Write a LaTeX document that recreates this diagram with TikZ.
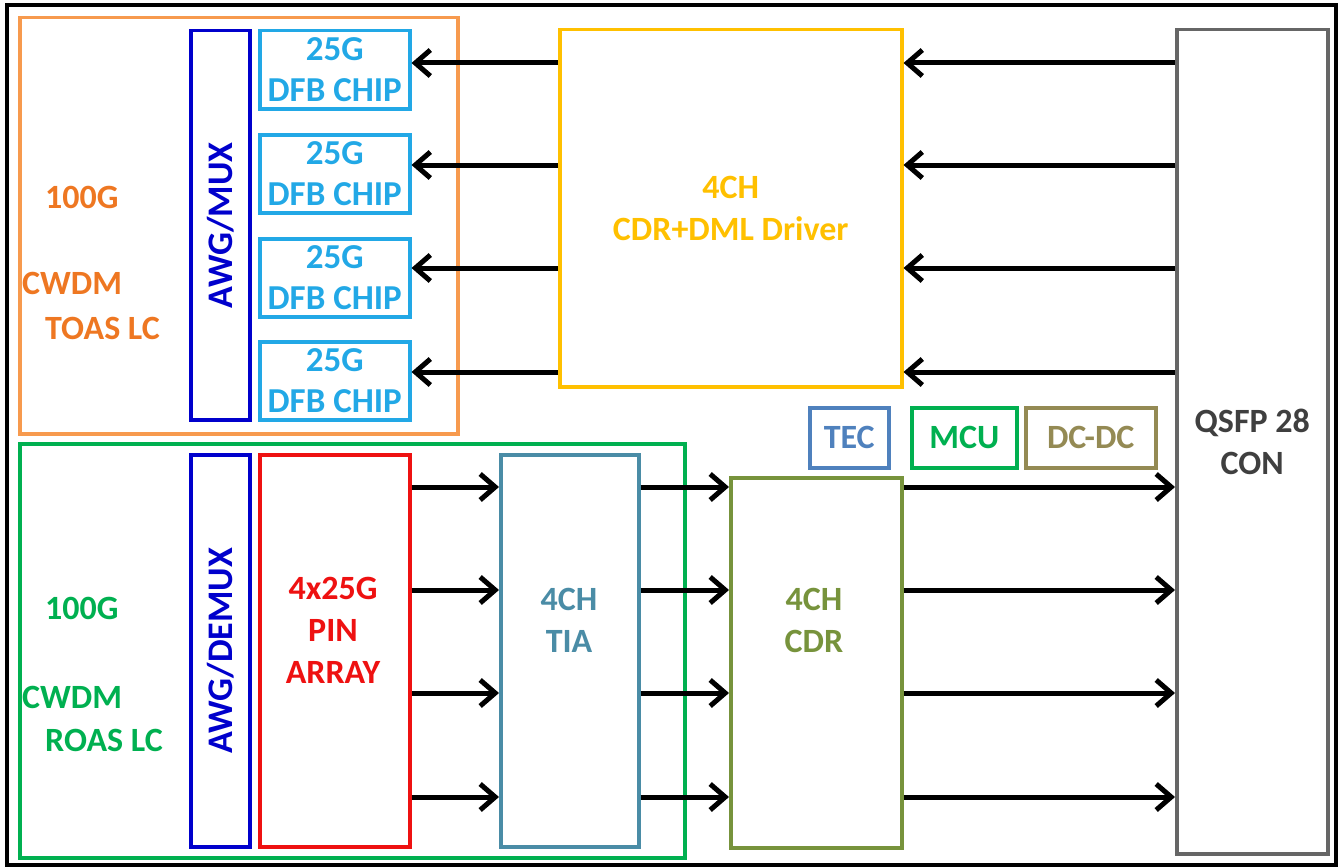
\documentclass[tikz,border=0pt]{standalone}
\usepackage{fontspec}
\setmainfont{Carlito}
\usetikzlibrary{arrows.meta}
\definecolor{cOrB}{HTML}{F79A4E}
\definecolor{cOrT}{HTML}{EE7722}
\definecolor{cAwg}{HTML}{0000CC}
\definecolor{cDfb}{HTML}{22A8E6}
\definecolor{cDrv}{HTML}{FFC000}
\definecolor{cGrn}{HTML}{00B050}
\definecolor{cRed}{HTML}{EE1111}
\definecolor{cTia}{HTML}{4A8CA6}
\definecolor{cCdr}{HTML}{77933C}
\definecolor{cTec}{HTML}{4F81BD}
\definecolor{cDcdc}{HTML}{948A54}
\definecolor{cQsB}{HTML}{666666}
\definecolor{cQsT}{HTML}{3F3F3F}
\begin{document}
\begin{tikzpicture}[x=1pt,y=-1pt,
  box/.style={draw=#1, line width=3.5pt, rectangle, inner sep=0pt, anchor=north west,
    text=#1, align=center, font=\bfseries\fontsize{34}{42}\selectfont},
  txt/.style={text=#1, inner sep=0pt, align=center, font=\bfseries\fontsize{34}{42}\selectfont},
  lbl/.style={text=#1, inner sep=0pt, anchor=west, font=\bfseries\fontsize{34}{42}\selectfont},
  vtxt/.style={text=#1, inner sep=0pt, rotate=90, font=\bfseries\fontsize{36}{42}\selectfont},
  arr/.style={line width=5pt, black, -{Straight Barb[length=15pt,width=26pt]}},
]
\useasboundingbox (0,0) rectangle (1338,867);
\node[draw=black, line width=4pt, inner sep=0pt, anchor=north west, minimum width=1329pt, minimum height=860pt] (frame) at (5,3) {};

% transmitter section
\node[box=cOrB, minimum width=438pt, minimum height=416pt] (tosa) at (18,16) {};
\node[lbl=cOrT] (t100) at (45,197) {100G};
\node[lbl=cOrT] (tcwdm) at (22,283) {CWDM};
\node[lbl=cOrT] (ttoas) at (45,328) {TOAS LC};
\node[box=cAwg, minimum width=59pt, minimum height=389pt] (awgmux) at (189,29) {};
\node[vtxt=cAwg] (awgmuxt) at (awgmux.center) {AWG/MUX};
\node[box=cDfb, font=\bfseries\fontsize{35}{41}\selectfont, minimum width=150pt, minimum height=78pt] (dfb1) at (258,29) {25G\\DFB CHIP};
\node[box=cDfb, font=\bfseries\fontsize{35}{41}\selectfont, minimum width=150pt, minimum height=78pt] (dfb2) at (258,133) {25G\\DFB CHIP};
\node[box=cDfb, font=\bfseries\fontsize{35}{41}\selectfont, minimum width=150pt, minimum height=78pt] (dfb3) at (258,237) {25G\\DFB CHIP};
\node[box=cDfb, font=\bfseries\fontsize{35}{41}\selectfont, minimum width=150pt, minimum height=78pt] (dfb4) at (258,340) {25G\\DFB CHIP};
\node[box=cDrv, minimum width=342pt, minimum height=357pt] (drv) at (558,28) {4CH\\CDR+DML Driver};

% connector
\node[box=cQsB, text=cQsT, minimum width=151pt, minimum height=824pt] (qsfp) at (1175,28) {QSFP 28\\CON};

% receiver section
\node[box=cGrn, minimum width=665pt, minimum height=414pt] (rosa) at (18,442) {};
\node[lbl=cGrn] (r100) at (45,608) {100G};
\node[lbl=cGrn] (rcwdm) at (22,697) {CWDM};
\node[lbl=cGrn] (rroas) at (45,740) {ROAS LC};
\node[box=cAwg, minimum width=59pt, minimum height=392pt] (awgdemux) at (189,453) {};
\node[vtxt=cAwg] (awgdemuxt) at (awgdemux.center) {AWG/DEMUX};
\node[box=cRed, minimum width=150pt, minimum height=392pt] (pin) at (258,453) {};
\node[txt=cRed] (pint) at (333,630) {4x25G\\PIN\\ARRAY};
\node[box=cTia, minimum width=138pt, minimum height=392pt] (tia) at (499,453) {};
\node[txt=cTia] (tiat) at (569,620) {4CH\\TIA};
\node[box=cCdr, minimum width=171pt, minimum height=370pt] (cdr) at (729,476) {};
\node[txt=cCdr] (cdrt) at (814,620) {4CH\\CDR};

% small blocks
\node[box=cTec, minimum width=79pt, minimum height=60pt] (tec) at (808,406) {TEC};
\node[box=cGrn, minimum width=105pt, minimum height=60pt] (mcu) at (910,406) {MCU};
\node[box=cDcdc, minimum width=130pt, minimum height=60pt] (dcdc) at (1024,406) {DC-DC};

% transmit arrows
\foreach \y in {63,165,268,372}{
  \draw[arr] (qsfp.west |- 0,\y) -- (drv.east |- 0,\y);
}
\draw[arr] (drv.west |- 0,63) -- (dfb1.east |- 0,63);
\draw[arr] (drv.west |- 0,165) -- (dfb2.east |- 0,165);
\draw[arr] (drv.west |- 0,268) -- (dfb3.east |- 0,268);
\draw[arr] (drv.west |- 0,372) -- (dfb4.east |- 0,372);

% receive arrows
\foreach \y in {487,590,693,797}{
  \draw[arr] (pin.east |- 0,\y) -- (tia.west |- 0,\y);
  \draw[arr] (tia.east |- 0,\y) -- (cdr.west |- 0,\y);
  \draw[arr] (cdr.east |- 0,\y) -- (qsfp.west |- 0,\y);
}
\end{tikzpicture}
\end{document}
